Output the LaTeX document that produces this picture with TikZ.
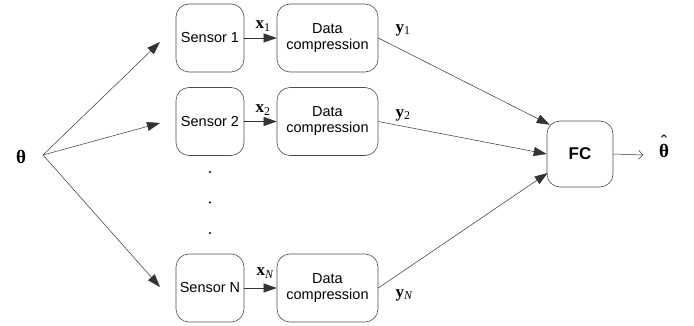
\documentclass[tikz,border=0pt]{standalone}
\usepackage{fontspec}
\setmainfont{Liberation Sans}
\newfontfamily\lblfont{Liberation Serif}
\usetikzlibrary{arrows.meta,calc}
\begin{document}
\begin{tikzpicture}[x=1pt,y=-1pt,
  blk/.style={draw=black!70,line width=0.6pt,rounded corners=13pt,align=center,
    font=\fontsize{14.5}{16}\selectfont,inner sep=0pt},
  sens/.style={blk,minimum width=68pt,minimum height=68pt},
  comp/.style={blk,minimum width=101pt,minimum height=68pt},
  lbl/.style={font=\lblfont\fontsize{17}{18}\selectfont,inner sep=0pt},
  arr/.style={draw=black!80,line width=0.5pt,-{Triangle[length=13pt,width=9pt]}},
  dotc/.style={circle,fill=black,inner sep=0pt,minimum size=2.4pt}]
\useasboundingbox (0,0) rectangle (694,326);

% source parameter
\node[lbl,font=\lblfont\bfseries\fontsize{19}{19}\selectfont] (theta) at (21,157) {θ};
\coordinate (src) at (43,155);

% sensors
\node[sens] (s1) at (210,38) {Sensor 1};
\node[sens] (s2) at (210,121.5) {Sensor 2};
\node[sens] (sn) at (210,288) {Sensor N};

% compression stages
\node[comp] (c1) at (327.5,38) {Data\\compression};
\node[comp] (c2) at (327.5,121.5) {Data\\compression};
\node[comp] (cn) at (327.5,288) {Data\\compression};

% fusion center
\node[blk,minimum width=66pt,minimum height=66pt,font=\bfseries\fontsize{17}{18}\selectfont] (fc) at (580,154) {FC};

% vertical ellipsis
\node[dotc] (d1) at (210,172) {};
\node[dotc] (d2) at (210,202.5) {};
\node[dotc] (d3) at (210,233) {};

% free ends of the broadcast arrows
\coordinate (t1) at (160,42);
\coordinate (t2) at (160,123);
\coordinate (tn) at (160,287);
\draw[arr] (src) -- (t1);
\draw[arr] (src) -- (t2);
\draw[arr] (src) -- (tn);

% sensor to compression
\draw[arr] (s1.east) -- (c1.west);
\draw[arr] (s2.east) -- (c2.west);
\draw[arr] (sn.east) -- (cn.west);

% compression to fusion center
\coordinate (f1) at ($(fc.north west)+(3,4)$);
\coordinate (fn) at ($(fc.west)+(1,19)$);
\draw[arr] (c1.east) -- (f1);
\draw[arr] (c2.east) -- (fc.west);
\draw[arr] (cn.east) -- (fn);

% estimate output: theta with a circumflex stacked above
\node[lbl,font=\lblfont\bfseries\fontsize{19}{19}\selectfont] (est) at (664,151)
  {\ooalign{θ\cr\hidewidth\raisebox{0.5em}{\mdseries ˆ}\hidewidth\cr}};
\coordinate (o) at (643,155);
\draw[draw=black!80,line width=0.5pt,-{Straight Barb[length=4pt,width=9pt]}] (fc.east) -- (o);

% signal labels
\node[lbl] (x1) at (263,26) {\textbf{x}\textsubscript{1}};
\node[lbl] (x2) at (263,110) {\textbf{x}\textsubscript{2}};
\node[lbl] (xn) at (265,273) {\textbf{x}\textsubscript{\itshape N}};
\node[lbl] (y1) at (403,30) {\textbf{y}\textsubscript{1}};
\node[lbl] (y2) at (403,115) {\textbf{y}\textsubscript{2}};
\node[lbl] (yn) at (404,295) {\textbf{y}\textsubscript{\itshape N}};
\end{tikzpicture}
\end{document}
